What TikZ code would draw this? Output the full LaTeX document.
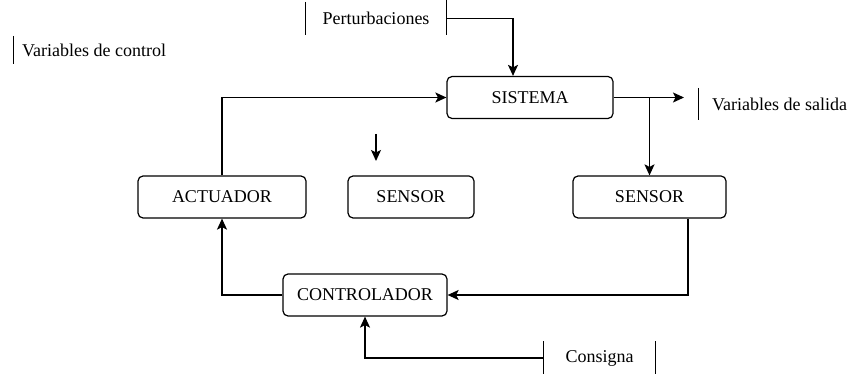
\documentclass[tikz,border=0pt]{standalone}
\usepackage{fontspec}
\setmainfont{Liberation Serif}
\usetikzlibrary{arrows.meta}
\begin{document}
\begin{tikzpicture}[x=1pt,y=-1pt,
  every node/.style={font=\fontsize{18}{21}\selectfont},
  blk/.style={draw, rounded corners=5pt, line width=1.2pt, minimum height=42pt, inner sep=0pt},
  lbl/.style={minimum height=31pt, inner sep=0pt},
  bar/.style={line width=0.9pt},
  arr/.style={line width=1.3pt, -{Stealth[length=11pt,width=10pt,inset=2.5pt]}},
  ln/.style={line width=1.3pt}]
\useasboundingbox (0,0) rectangle (857,374);
% blocks
\node[blk, minimum width=166pt] (sis) at (530,97.5) {SISTEMA};
\node[blk, minimum width=168pt] (act) at (222,197) {ACTUADOR};
\node[blk, minimum width=126pt] (sen1) at (411,197) {SENSOR};
\node[blk, minimum width=153pt] (sen2) at (649.5,197) {SENSOR};
\node[blk, minimum width=164pt] (con) at (365,295) {CONTROLADOR};
% labels
\node[lbl, minimum width=140pt, minimum height=33pt] (pert) at (376,18.5) {Perturbaciones};
\draw[bar] (pert.north west) -- (pert.south west);
\draw[bar] ([yshift=6pt]pert.north east) -- (pert.south east);
\node[lbl, anchor=west, inner xsep=9pt, minimum height=28pt] (ctrl) at (13,50) {Variables de control};
\draw[bar] (ctrl.north west) -- (ctrl.south west);
\node[lbl, anchor=west, inner xsep=14pt, minimum height=32pt] (sal) at (698,104) {Variables de salida};
\draw[bar] (sal.north west) -- (sal.south west);
\node[lbl, minimum width=111pt, minimum height=33pt] (cons) at (599.5,358) {Consigna};
\draw[bar] (cons.north west) -- (cons.south west);
\draw[bar] (cons.north east) -- (cons.south east);
% coordinates
\coordinate (out) at (684,97.5);
\coordinate (m1) at (376,134);
\coordinate (m2) at (376,161);
% connectors
\draw[arr] (pert.east) -| ([xshift=-17pt]sis.north);
\draw[arr] (act.north) |- (sis.west);
\draw[arr] (sis.east) -- (out);
\draw[arr] (sen2.north |- sis.east) -- (sen2.north);
\draw[arr] (m1) -- (m2);
\draw[arr] ([xshift=38.5pt]sen2.south) |- (con.east);
\draw[arr] (con.west) -| (act.south);
\draw[arr] (cons.west) -| (con.south);
\end{tikzpicture}
\end{document}
